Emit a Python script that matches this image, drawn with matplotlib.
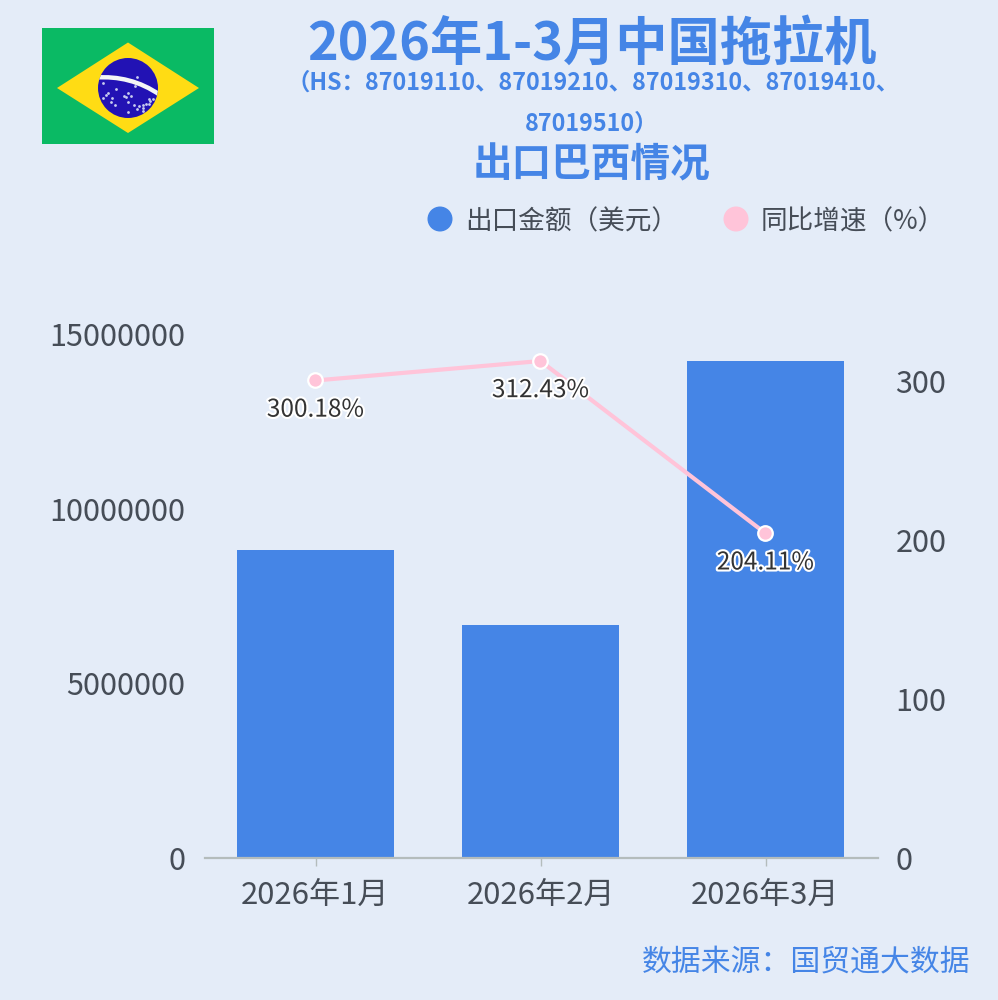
import matplotlib
matplotlib.use("Agg")
import matplotlib.pyplot as plt
import matplotlib.patheffects as pe
from matplotlib.patches import Polygon, Circle, Rectangle, PathPatch
from matplotlib.path import Path
import numpy as np

plt.rcParams['font.family'] = ['Noto Sans CJK SC', 'DejaVu Sans']

months = ['2026年1月', '2026年2月', '2026年3月']
amounts = [8820000, 6670000, 14230000]
growth = [300.18, 312.43, 204.11]
growth_labels = ['300.18%', '312.43%', '204.11%']
left_ticks = [0, 5000000, 10000000, 15000000]
right_ticks = [0, 100, 200, 300]

BG = '#E4ECF8'
BLUE = '#4585E6'
PINK = '#FFC4D9'
TXT = '#464D57'
W, H = 998, 1000

fig = plt.figure(figsize=(W / 100, H / 100), dpi=100, facecolor=BG)

def px_axes(x0, y0, x1, y1, **kw):
    return fig.add_axes([x0 / W, 1 - y1 / H, (x1 - x0) / W, (y1 - y0) / H], **kw)

ax = px_axes(203, 334, 878, 858)
ax.set_facecolor('none')
x = np.arange(len(months))
ax.bar(x, amounts, width=0.70, color=BLUE, zorder=2)
ax.set_xlim(-0.5, 2.5)
ax.set_ylim(0, 15000000)
ax.set_yticks(left_ticks)
ax.set_yticklabels([str(v) for v in left_ticks])
ax.set_xticks(x)
ax.set_xticklabels(months)
ax.tick_params(axis='y', length=0, labelsize=22, labelcolor=TXT, pad=12.5)
ax.tick_params(axis='x', length=6, width=1, color='#B4BCBC', labelsize=22.4, labelcolor=TXT, pad=10)
for s in ['top', 'left', 'right']:
    ax.spines[s].set_visible(False)
ax.spines['bottom'].set_color('#B4BCBC')
ax.spines['bottom'].set_linewidth(1.6)
ax.spines['bottom'].set_bounds(-0.491, 2.5)

ax2 = ax.twinx()
ax2.set_facecolor('none')
ax2.set_ylim(0, 329.4)
ax2.set_yticks(right_ticks)
ax2.tick_params(axis='y', length=0, labelsize=22, labelcolor=TXT, pad=12.5)
for s in ax2.spines.values():
    s.set_visible(False)
ax2.plot(x, growth, color=PINK, lw=3, marker='o', ms=10.5, mfc=PINK, mec='white', mew=1.6,
         clip_on=False, zorder=3)
for xi, g, lab in zip(x, growth, growth_labels):
    ax2.annotate(lab, (xi, g), xytext=(0, -21), textcoords='offset points', ha='center', va='center',
                 fontsize=17.6, color='#333333', zorder=4,
                 path_effects=[pe.withStroke(linewidth=3, foreground='white')])

# Titles
def t(px, py, s, size, color=BLUE, weight='normal', ha='center'):
    fig.text(px / W, 1 - py / H, s, fontsize=size, color=color, fontweight=weight, ha=ha, va='center')

t(592, 44, '2026年1-3月中国拖拉机', 37.6, weight='bold')
t(593, 83, '（HS：87019110、87019210、87019310、87019410、', 16.8, weight='bold')
t(592, 124, '87019510）', 16.8, weight='bold')
t(592, 165, '出口巴西情况', 28.5, weight='bold')
t(970, 962, '数据来源：国贸通大数据', 21.5, ha='right')

# Legend
ov = fig.add_axes([0, 0, 1, 1], facecolor='none')
ov.set_xlim(0, W)
ov.set_ylim(H, 0)
ov.axis('off')
ov.add_patch(Circle((440, 219), 12.5, color=BLUE, lw=0))
ov.add_patch(Circle((736, 219), 12.5, color=PINK, lw=0))
t(465, 222, '出口金额（美元）', 19.2, color=TXT, ha='left')
t(761, 222, '同比增速（%）', 19.2, color=TXT, ha='left')

# Flag
ov.add_patch(Rectangle((42, 28), 172, 116, color='#0ABA64', lw=0))
ov.add_patch(Polygon([(128, 42.5), (199, 88), (128, 133), (57, 88)], closed=True, color='#FFDC14', lw=0))
globe = Circle((128, 88), 30, color='#2212B4', lw=0)
ov.add_patch(globe)
band = Path([(96, 77.5), (118, 76), (140, 81), (160, 95)], [Path.MOVETO, Path.CURVE4, Path.CURVE4, Path.CURVE4])
bp = PathPatch(band, fc='none', ec='#F4F6F6', lw=3.2)
ov.add_patch(bp)
bp.set_clip_path(globe)
sx = [103, 106, 108, 103, 112, 111, 116, 115, 124, 128, 131, 128, 126, 134, 137, 139, 143, 146, 143, 143, 149, 150, 149, 153, 135, 137, 128]
sy = [83, 95, 93, 98, 98, 102, 89, 105, 96, 93, 96, 102, 97, 105, 109, 106, 105, 104, 108, 111, 104, 101, 99, 99, 86, 77, 112]
ov.scatter(sx, sy, s=4, color='#C8CCF0', lw=0)

fig.savefig('out.png', dpi=100, facecolor=BG)
